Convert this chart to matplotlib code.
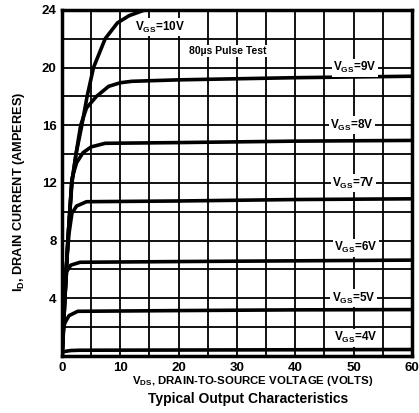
import numpy as np
import matplotlib.pyplot as plt

plt.rcParams['font.family'] = ['Liberation Sans', 'DejaVu Sans']
plt.rcParams['font.weight'] = 'bold'
plt.rcParams['mathtext.fontset'] = 'custom'
plt.rcParams['mathtext.rm'] = 'Liberation Sans:bold'
plt.rcParams['mathtext.it'] = 'Liberation Sans:bold'
plt.rcParams['mathtext.bf'] = 'Liberation Sans:bold'

# --- curves (VDS in volts, ID in amperes) ---
v10 = [0, 0.5, 1.0, 1.66, 2.4, 3.4, 4.3, 5.4, 7.4, 9.5, 11.5, 14.2]
i10 = [0, 4.0, 8.0, 12.0, 14.0, 16.0, 18.0, 20.0, 22.0, 23.1, 23.6, 24.0]

v9 = [0, 0.5, 1.0, 1.7, 2.4, 3.2, 4.2, 5.9, 8.0, 10.0, 12.0, 20, 40, 60]
i9 = [0, 4.0, 8.0, 12.0, 14.0, 16.0, 17.2, 18.0, 18.7, 18.95, 19.05, 19.15, 19.3, 19.4]

v8 = [0, 0.5, 1.0, 1.7, 2.5, 3.6, 5.0, 7.4, 20, 40, 60]
i8 = [0, 4.0, 8.0, 12.3, 13.4, 14.1, 14.5, 14.75, 14.8, 14.9, 14.95]

v7 = [0, 0.5, 1.2, 1.7, 2.5, 4.2, 20, 40, 60]
i7 = [0, 5.0, 8.5, 9.9, 10.4, 10.7, 10.75, 10.85, 10.9]

v6 = [0, 0.4, 0.8, 1.5, 3.1, 20, 40, 60]
i6 = [0, 4.0, 5.85, 6.3, 6.5, 6.55, 6.6, 6.65]

v5 = [0, 0.3, 0.5, 1.2, 2.7, 20, 40, 60]
i5 = [0, 2.0, 2.3, 2.8, 3.1, 3.15, 3.2, 3.22]

v4 = [0, 0.2, 1.5, 3.0, 60]
i4 = [0, 0.3, 0.38, 0.4, 0.45]

curves = [(v10, i10), (v9, i9), (v8, i8), (v7, i7), (v6, i6), (v5, i5), (v4, i4)]

# curve labels: text, x, y
labels = [
    ("V$_{\\mathrm{GS}}$=10V", 16.8, 22.8),
    ("V$_{\\mathrm{GS}}$=9V", 50.2, 20.0),
    ("V$_{\\mathrm{GS}}$=8V", 49.7, 16.0),
    ("V$_{\\mathrm{GS}}$=7V", 50.0, 12.0),
    ("V$_{\\mathrm{GS}}$=6V", 50.4, 7.5),
    ("V$_{\\mathrm{GS}}$=5V", 50.0, 4.0),
    ("V$_{\\mathrm{GS}}$=4V", 50.4, 1.27),
]

fig = plt.figure(figsize=(4.19, 4.13), dpi=100)
ax = fig.add_axes([0.148, 0.138, 0.835, 0.838])

for v, i in curves:
    ax.plot(v, i, color='black', lw=2.6, solid_capstyle='round', zorder=3)

ax.set_xlim(0, 60)
ax.set_ylim(0, 24)
ax.set_xticks(np.arange(0, 61, 5))
ax.set_yticks(np.arange(0, 25, 2))
ax.set_xticklabels([str(t) if t % 10 == 0 else '' for t in range(0, 61, 5)])
ax.set_yticklabels([str(t) if (t % 4 == 0 and t > 0) else '' for t in range(0, 25, 2)])
ax.tick_params(length=0, labelsize=9.5, pad=4)
for lab in ax.get_xticklabels() + ax.get_yticklabels():
    lab.set_fontweight('bold')
ax.grid(True, color='black', lw=1.3)
for s in ax.spines.values():
    s.set_linewidth(2.5)

for txt, x, y in labels:
    ax.text(x, y, txt, fontsize=8.5, ha='center', va='center', zorder=4,
            bbox=dict(facecolor='white', edgecolor='none', pad=1.0))
ax.text(28.5, 21.15, "80µs Pulse Test", fontsize=7.5, ha='center', va='center', zorder=4,
        bbox=dict(facecolor='white', edgecolor='none', pad=0.8))

fig.text(0.604, 0.077, "V$_{\\mathrm{DS}}$, DRAIN-TO-SOURCE VOLTAGE (VOLTS)", fontsize=8.2,
         fontweight='bold', ha='center', va='center')
ax.set_ylabel("I$_{\\mathrm{D}}$, DRAIN CURRENT (AMPERES)", fontsize=9.2,
              fontweight='bold')
ax.yaxis.set_label_coords(-0.1, 0.474)
fig.text(0.593, 0.035, "Typical Output Characteristics", fontsize=10,
         fontweight='bold', ha='center', va='center')

fig.savefig("out.png", dpi=100)
